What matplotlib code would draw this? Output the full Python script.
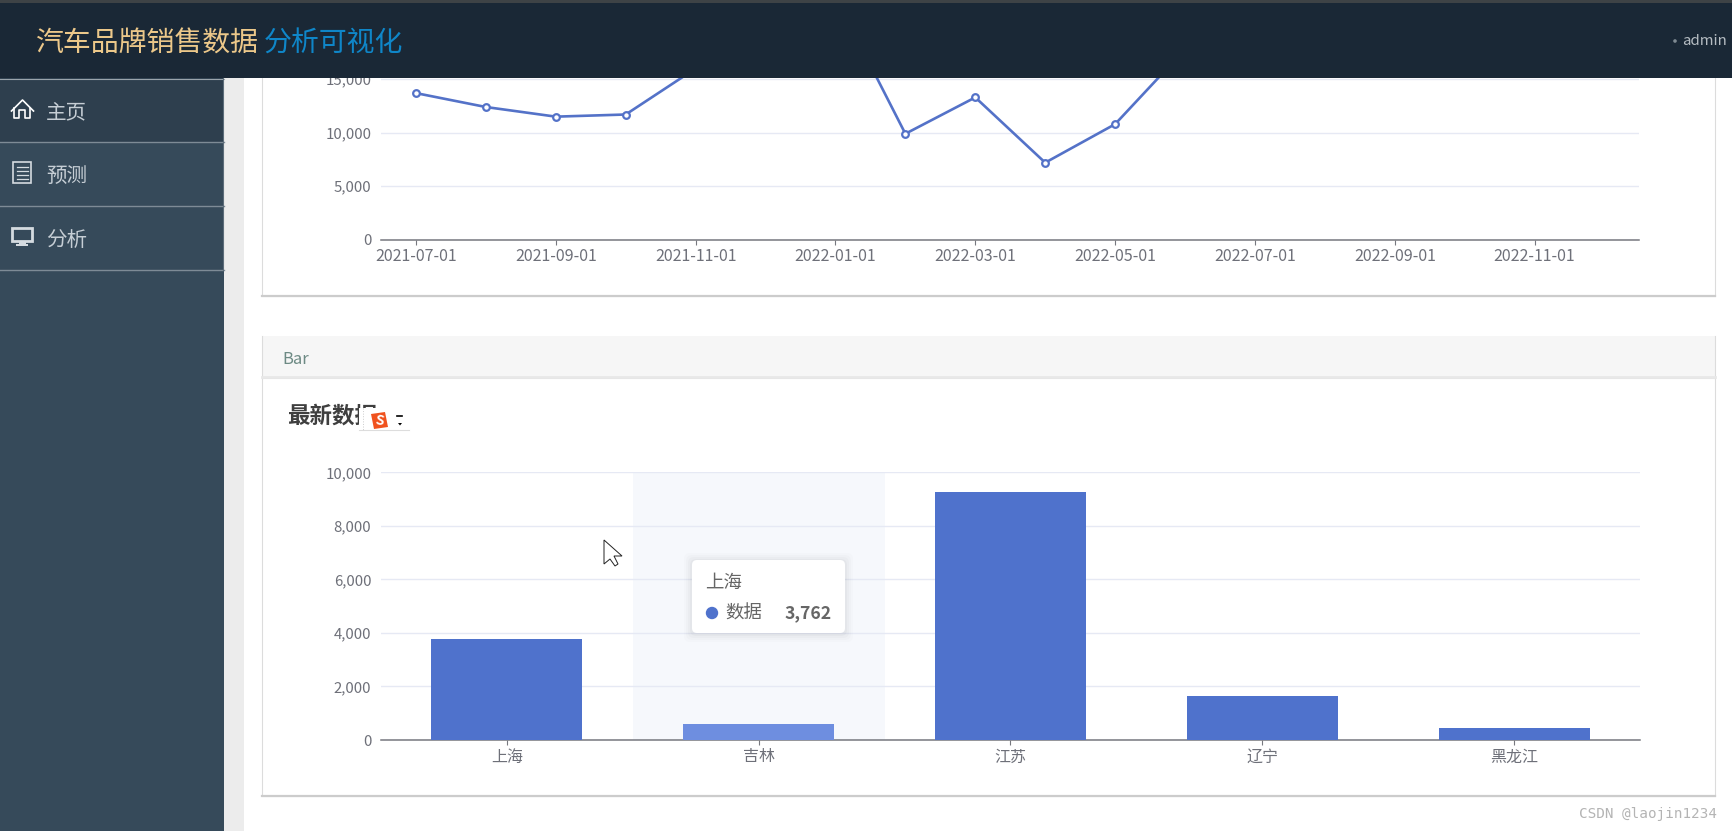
import numpy as np
import matplotlib
matplotlib.use('Agg')
import matplotlib.pyplot as plt
from matplotlib.patches import Rectangle, FancyBboxPatch, Polygon, Circle

plt.rcParams['font.family'] = ['Noto Sans CJK SC', 'DejaVu Sans']

# Line chart data (hidden points estimated from the slopes going out of view)
months = ['2021-07-01', '2021-08-01', '2021-09-01', '2021-10-01', '2021-11-01', '2021-12-01',
          '2022-01-01', '2022-02-01', '2022-03-01', '2022-04-01', '2022-05-01', '2022-06-01',
          '2022-07-01', '2022-08-01', '2022-09-01', '2022-10-01', '2022-11-01', '2022-12-01']
month_values = [13700, 12400, 11500, 11700, 16000, 20000,
                22700, 9900, 13300, 7200, 10800, 17800,
                np.nan, np.nan, np.nan, np.nan, np.nan, np.nan]
line_yticks = [0, 5000, 10000, 15000, 20000, 25000]

# Bar chart data
provinces = ['上海', '吉林', '江苏', '辽宁', '黑龙江']
province_values = [3762, 580, 9250, 1650, 460]
bar_yticks = [0, 2000, 4000, 6000, 8000, 10000]
hover_index = 1

W, H = 1733, 831
BLUE = '#5472c8'
BAR_BLUE = '#4f72cc'
BAR_HOVER = '#6e8ee0'
GRID = '#e6e9f4'
AXIS = '#77787f'
LABEL = '#6e7079'

fig = plt.figure(figsize=(W / 100, H / 100), dpi=100)
fig.patch.set_facecolor('white')


def page_axes(zorder):
    ax = fig.add_axes([0, 0, 1, 1], zorder=zorder)
    ax.set_xlim(0, W)
    ax.set_ylim(H, 0)
    ax.axis('off')
    ax.patch.set_alpha(0)
    return ax


def px_axes(x0, y0, x1, y1, zorder):
    ax = fig.add_axes([x0 / W, 1 - y1 / H, (x1 - x0) / W, (y1 - y0) / H], zorder=zorder)
    ax.patch.set_alpha(0)
    return ax


def style_chart(ax):
    for name in ['top', 'right', 'left']:
        ax.spines[name].set_visible(False)
    ax.spines['bottom'].set_color(AXIS)
    ax.spines['bottom'].set_linewidth(1.1)
    ax.tick_params(axis='y', length=0, pad=7, labelsize=10.8, labelcolor=LABEL)
    ax.tick_params(axis='x', length=3.6, width=0.8, color=AXIS, pad=2.5, labelsize=11.5, labelcolor=LABEL)
    ax.yaxis.set_major_formatter(matplotlib.ticker.FuncFormatter(lambda v, p: f'{int(v):,}'))
    ax.grid(axis='y', color=GRID, linewidth=1)
    ax.set_axisbelow(True)


# Page background, cards
bg = page_axes(0)
bg.add_patch(Rectangle((224, 0), 20, H, color='#ececec', lw=0))
for y0, y1 in [(0, 296), (378, 796)]:
    bg.add_patch(Rectangle((262, y0), 1453, y1 - y0, facecolor='white', edgecolor='#dcdcdc', lw=0.8))
bg.plot([262, 1715], [296, 296], color='#cccccc', lw=1.6)
bg.plot([262, 1715], [796, 796], color='#cccccc', lw=1.6)
bg.add_patch(Rectangle((262, 336), 1453, 41, facecolor='#f6f6f6', edgecolor='none', lw=0))
bg.plot([262, 262], [336, 378], color='#dcdcdc', lw=0.8)
bg.plot([1715, 1715], [336, 378], color='#dcdcdc', lw=0.8)
bg.plot([262, 1715], [377, 377], color='#e8e8e8', lw=2)
bg.text(282, 359, 'Bar', fontsize=12, color='#6d8a84', va='center')
bg.text(287, 416, '最新数据', fontsize=16.2, fontweight='bold', color='#3f3f3f', va='center')

# Line chart, its top runs up under the header bar
y_top = 239.7 * 15000 / 160.5
ax_line = px_axes(381, 0, 1639.5, 239.7, 1)
ax_line.plot(range(len(months)), month_values, color=BLUE, lw=1.9, marker='o', ms=4.8, mfc='white',
             mec=BLUE, mew=1.6, clip_on=True)
ax_line.set_xlim(-0.5, len(months) - 0.5)
ax_line.set_ylim(0, y_top)
ax_line.set_yticks([v for v in line_yticks if v <= 15000])
ax_line.set_xticks(range(0, len(months), 2))
ax_line.set_xticklabels(months[::2])
style_chart(ax_line)

# Bar chart
ax_bar = px_axes(381, 472.3, 1640, 740, 1)
colors = [BAR_HOVER if i == hover_index else BAR_BLUE for i in range(len(provinces))]
ax_bar.axvspan(hover_index - 0.5, hover_index + 0.5, color='#f6f8fc', lw=0, zorder=0)
ax_bar.bar(range(len(provinces)), province_values, width=0.6, color=colors, zorder=3)
ax_bar.set_xlim(-0.5, len(provinces) - 0.5)
ax_bar.set_ylim(0, 10000)
ax_bar.set_yticks(bar_yticks)
ax_bar.set_xticks(range(len(provinces)))
ax_bar.set_xticklabels(provinces)
style_chart(ax_bar)

# Overlays: header, side menu, tooltip, cursor, input method badge, watermark
top = page_axes(5)
top.add_patch(Rectangle((0, 0), W, 78, color='#1a2836', lw=0))
top.add_patch(Rectangle((0, 0), W, 3.2, color='#3e4346', lw=0))
top.text(36, 43.5, '汽车品牌销售数据', fontsize=20.1, color='#ecc88a', va='center')
top.text(264, 43.5, '分析可视化', fontsize=20.1, color='#0f86c8', va='center')
top.add_patch(Circle((1675, 41), 1.8, color='#7f8a92', lw=0))
top.text(1682, 41, 'admin', fontsize=10.8, color='#b5bcc2', va='center')

top.add_patch(Rectangle((0, 78), 224, H - 78, color='#364a5a', lw=0))
top.add_patch(Rectangle((0, 78), 224, 64, color='#2e3f4e', lw=0))
top.plot([0, 224], [78.5, 78.5], color='#9aa4ac', lw=0.8)
for y in [142, 206, 270]:
    top.plot([0, 224], [y, y], color='#7e8b96', lw=1)
top.plot([223.5, 223.5], [78, 270], color='#5d6d7a', lw=0.8)
for y, name in [(112, '主页'), (176, '预测'), (240, '分析')]:
    top.text(46, y, name, fontsize=14.8, color='#c6ced5', va='center')

# home icon
top.plot([11.5, 22.5, 33.5], [111, 100, 111], color='white', lw=1.2)
top.plot([14.5, 14.5, 19.5, 19.5, 25.5, 25.5, 30.5, 30.5],
         [108, 118, 118, 110, 110, 118, 118, 108], color='white', lw=1.2)
# document icon
top.add_patch(Rectangle((13.5, 162), 18, 21, fill=False, edgecolor='#d5dbe0', lw=1.2))
for y in [167, 171, 175, 179]:
    top.plot([17, 28], [y, y], color='#d5dbe0', lw=0.9)
# monitor icon
top.add_patch(Rectangle((12.5, 228), 20, 13, fill=False, edgecolor='#d5dbe0', lw=2))
top.add_patch(Rectangle((19, 241), 7, 3, color='#d5dbe0', lw=0))
top.add_patch(Rectangle((16.5, 244), 12, 1.6, color='#d5dbe0', lw=0))

# tooltip
for grow, alpha in [(8, 0.012), (6, 0.015), (4, 0.02), (2, 0.025)]:
    top.add_patch(FancyBboxPatch((692 - grow, 560 - grow + 1), 153 + 2 * grow, 73 + 2 * grow,
                                 boxstyle='round,pad=0,rounding_size=6', color='black', alpha=alpha, lw=0))
top.add_patch(FancyBboxPatch((692, 560), 153, 73, boxstyle='round,pad=0,rounding_size=5',
                             facecolor='white', edgecolor='none', lw=0))
top.text(705, 583, provinces[0], fontsize=13.3, color='#666666', va='center')
top.add_patch(Circle((712, 613), 6.2, color=BAR_BLUE, lw=0))
top.text(725, 613.5, '数据', fontsize=13.3, color='#666666', va='center')
top.text(832, 613, f'{province_values[0]:,}', fontsize=12.7, fontweight='bold', color='#666666',
         va='center', ha='right')

# mouse cursor
top.add_patch(Polygon([(604, 540), (604, 564), (610, 559), (615, 566), (618, 564), (614, 556), (622, 556)],
                      closed=True, facecolor='white', edgecolor='#222222', lw=0.7))

# input method badge over the title
top.add_patch(Rectangle((359, 408), 50, 22, color='white', lw=0))
top.plot([359, 409], [430, 430], color='#dddddd', lw=0.8)
top.plot([363, 363], [408, 430], color='#cccccc', lw=0.7, ls=':')
top.add_patch(Polygon([(371, 414), (385, 412), (388, 427), (374, 429)], closed=True, color='#f0521e', lw=0))
top.text(379.5, 420.5, 'S', fontsize=10, fontweight='bold', color='white', ha='center', va='center', rotation=-10)
top.plot([397, 402], [416, 416], color='black', lw=1.2)
top.add_patch(Polygon([(398, 423), (402, 423), (400, 425.5)], color='black', lw=0))

top.text(1717, 814, 'CSDN @laojin1234', fontsize=10.3, color='#b4b4b4', ha='right', va='center',
         family='DejaVu Sans Mono')

fig.savefig('out.png', dpi=100)
